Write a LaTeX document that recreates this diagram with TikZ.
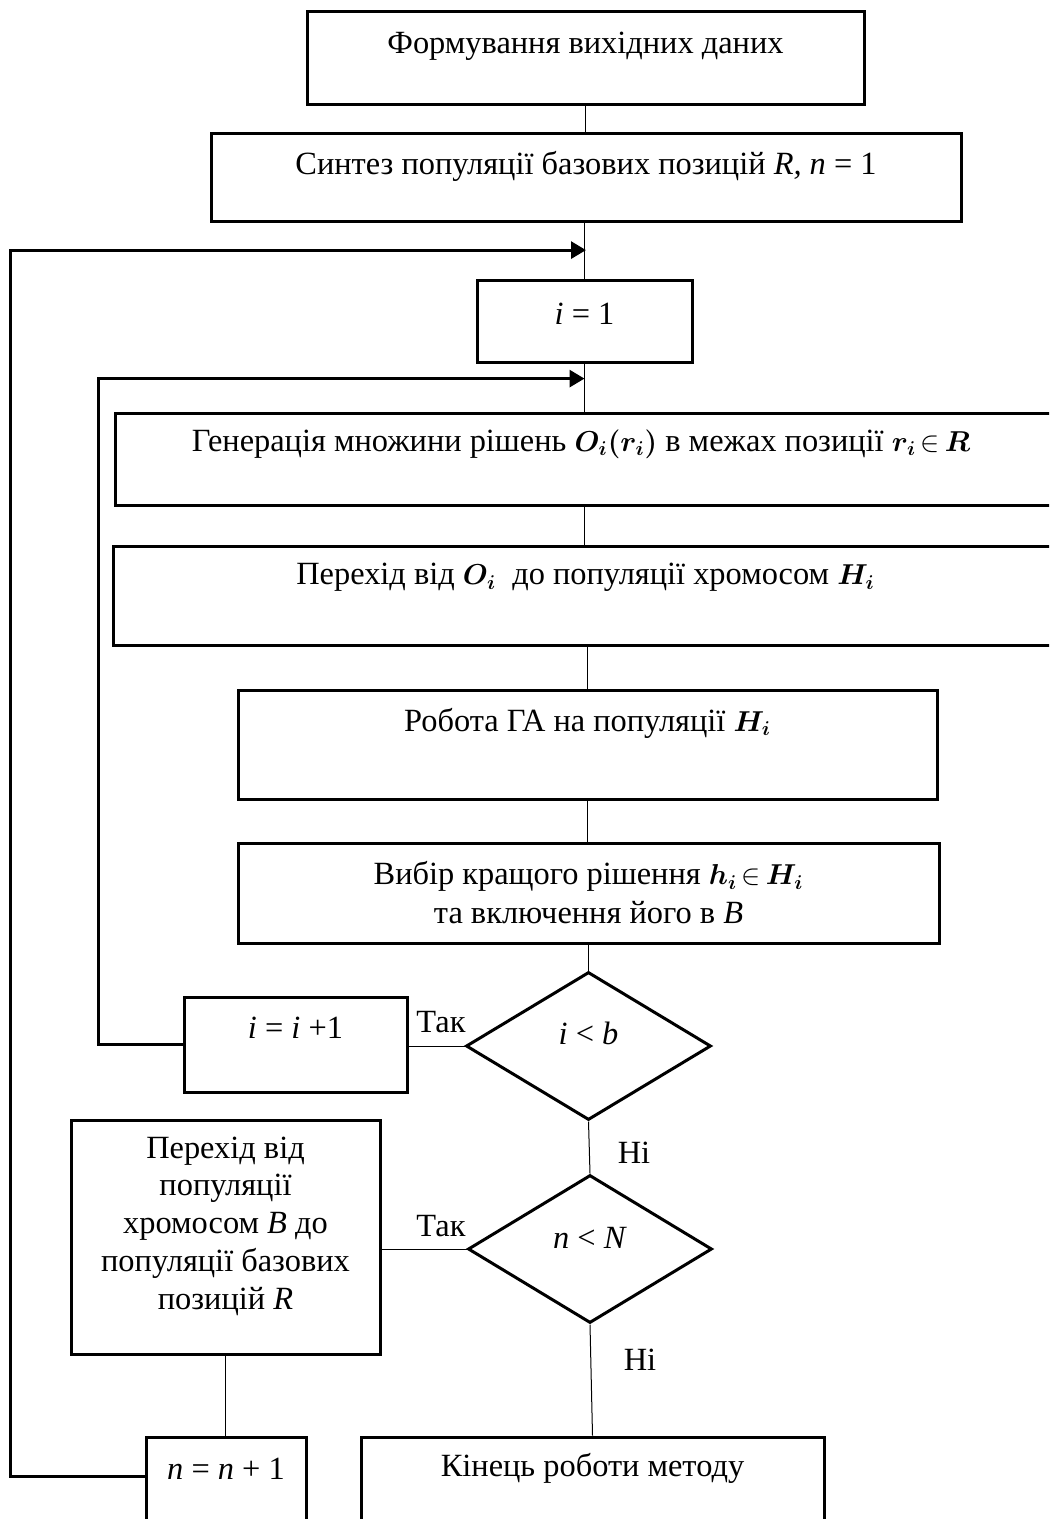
\documentclass[tikz,border=0pt]{standalone}
\usepackage{fontspec}
\setmainfont{Liberation Serif}
\usepackage{amsmath}
\usepackage{bm}
\usetikzlibrary{shapes,arrows.meta,positioning,calc}
\tikzstyle{blk}=[draw, rectangle, line width=1.5pt, inner sep=0pt]
\tikzstyle{dec}=[draw, diamond, line width=1.5pt, inner sep=0pt]
\tikzstyle{txt}=[inner sep=0pt, align=center]
\tikzstyle{ln}=[line width=0.5pt]
\tikzstyle{back}=[line width=1.5pt, -{Triangle[length=7.5pt,width=8.5pt]}]
\newcommand{\sm}[1]{{\fontsize{14.5}{17}\selectfont$#1$}}

\begin{document}
\begin{tikzpicture}
 [x=0.5pt, y=-0.5pt, font=\fontsize{16.2}{18.9}\selectfont]
 \clip (0,0) rectangle (1049,1519);
 \node[blk, minimum width=278.5pt, minimum height=46.5pt,
   label={[txt, name=t1, yshift=6.25pt]center:Формування вихідних даних}] (b1) at (585.5,58.5) {};
 \node[blk, minimum width=375pt, minimum height=44pt,
   label={[txt, name=t2, yshift=5.75pt]center:{Синтез популяції базових позицій \textit{R, n} = 1}}] (b2) at (586,178) {};
 \node[blk, minimum width=107.5pt, minimum height=41pt,
   label={[txt, name=t3, yshift=4.25pt]center:\textit{i} = 1}] (b3) at (584.5,322) {};
 \node[blk, minimum width=477.5pt, minimum height=46pt,
   label={[txt, name=t4, yshift=7.5pt, xshift=-5.75pt]center:{Генерація множини рішень \sm{\bm{O_i(r_i)}} в межах позиції \sm{\bm{r_i}\,{\in}\,\bm{R}}}}] (b4) at (592.5,459) {};
 \node[blk, minimum width=478.5pt, minimum height=49.5pt,
   label={[txt, name=t5, yshift=9pt, xshift=-3pt]center:{Перехід від \sm{\bm{O_i}}\ \ до популяції хромосом \sm{\bm{H_i}}}}] (b5) at (591.5,595.5) {};
 \node[blk, minimum width=349.5pt, minimum height=54.5pt,
   label={[txt, name=t6, yshift=10.75pt]center:{Робота ГА на популяції \sm{\bm{H_i}}}}] (b6) at (587.5,744.5) {};
 \node[blk, minimum width=350.5pt, minimum height=50pt,
   label={[txt, name=t7]center:{Вибір кращого рішення \sm{\bm{h_i}\,{\in}\,\bm{H_i}}\\[0.6pt]та включення його в \textit{B}}}] (b7) at (588.5,893) {};
 \node[dec, minimum width=122.5pt, minimum height=74pt,
   label={[txt, name=t8, yshift=6.5pt]center:\textit{i} < \textit{b}}] (d1) at (588.5,1046) {};
 \node[blk, minimum width=111.5pt, minimum height=47.5pt,
   label={[txt, name=t9, yshift=8.5pt]center:\textit{i} = \textit{i} +1}] (b8) at (295.5,1044.5) {};
 \node[dec, minimum width=122pt, minimum height=74pt,
   label={[txt, name=t10, yshift=5.5pt]center:\textit{n} < \textit{N}}] (d2) at (590,1249) {};
 \node[blk, minimum width=154.5pt, minimum height=117pt,
   label={[txt, name=t11, yshift=5.5pt]center:{Перехід від\\популяції\\хромосом \textit{B} до\\популяції базових\\позицій \textit{R}}}] (b9) at (225.5,1237) {};
 \node[blk, minimum width=80pt, minimum height=61.5pt,
   label={[txt, name=t12, yshift=15pt]center:\textit{n} = \textit{n} + 1}] (b10) at (226,1498.5) {};
 \node[blk, minimum width=231.5pt, minimum height=61.5pt,
   label={[txt, name=t13, yshift=15pt]center:Кінець роботи методу}] (b11) at (592.5,1498.5) {};
 \node[txt] (yes1) at (441,1022) {Так};
 \node[txt] (yes2) at (441,1226) {Так};
 \node[txt] (no1) at (634,1153) {Ні};
 \node[txt] (no2) at (640,1360) {Ні};
 \coordinate (j1) at ($(b2.south)!0.475!(b2.south |- b3.north)$);
 \coordinate (j2) at ($(b3.south)!0.3!(b3.south |- b4.north)$);
 \draw[ln] (b1.south) -- (b1.south |- b2.north);
 \draw[ln] (b2.south -| b3) -- (b3.north);
 \draw[ln] (b3.south) -- (b3.south |- b4.north);
 \draw[ln] (b4.south -| b3) -- (b5.north -| b3);
 \draw[ln] (b6.north) -- (b6.north |- b5.south);
 \draw[ln] (b6.south) -- (b6.south |- b7.north);
 \draw[ln] (b7.south) -- (d1.north);
 \draw[ln] (d1.west) -- (d1.west -| b8.east);
 \draw[ln] (d1.south) -- (d2.north);
 \draw[ln] (d2.west) -- (d2.west -| b9.east);
 \draw[ln] (b9.south) -- (b9.south |- b10.north);
 \draw[ln] (d2.south) -- (b11.north);
 \draw[back] (b8.west) -- ++(-84,0) |- (j2);
 \draw[back] ([yshift=-20.5pt]b10.north west) -- ++(-134,0) |- (j1);
\end{tikzpicture}
\end{document}
